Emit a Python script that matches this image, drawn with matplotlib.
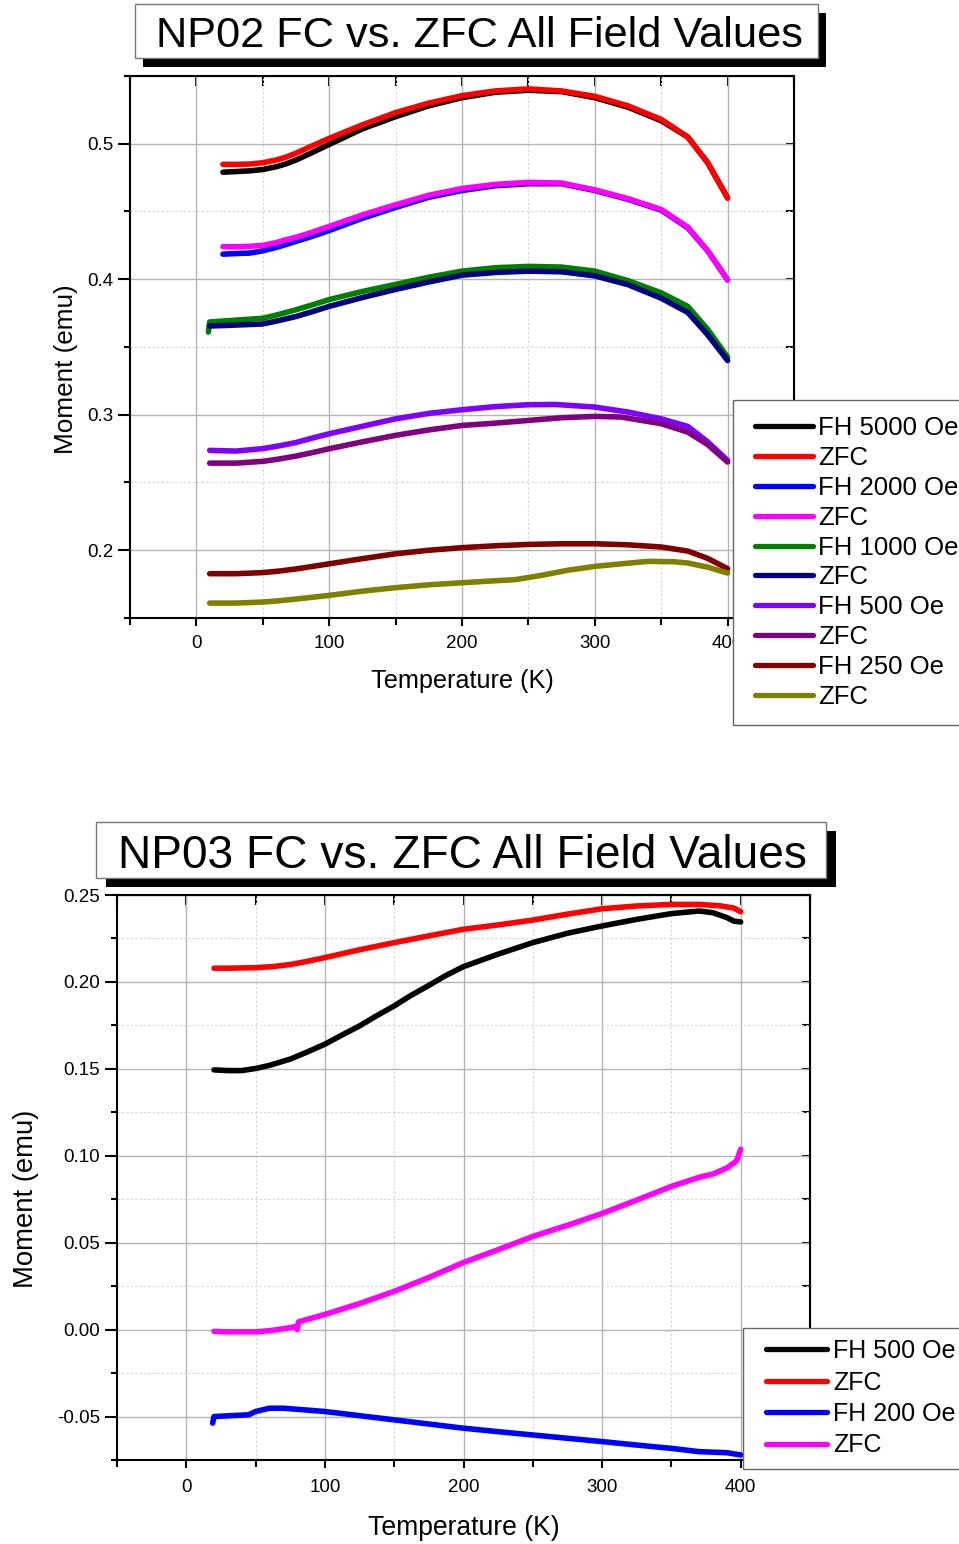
import matplotlib
matplotlib.use('Agg')
import matplotlib.pyplot as plt
from matplotlib.patches import Rectangle
from matplotlib.ticker import MultipleLocator, FormatStrFormatter

plt.rcParams['font.family'] = ['Liberation Sans', 'DejaVu Sans']
plt.rcParams['axes.unicode_minus'] = False

# ---------------- NP02 data (top panel) ----------------
np02_fh5000_T = [20, 30, 40, 50, 60, 67, 75, 85, 100, 125, 150, 175, 200, 225, 250, 275, 300, 325, 350, 370, 385, 400]
np02_fh5000_M = [0.479, 0.4795, 0.480, 0.481, 0.483, 0.485, 0.488, 0.4925, 0.4995, 0.511, 0.520, 0.528, 0.534, 0.538,
                 0.5395, 0.5385, 0.534, 0.527, 0.517, 0.505, 0.486, 0.460]
np02_zfc5000_T = [20, 30, 40, 50, 60, 67, 75, 85, 100, 125, 150, 175, 200, 225, 250, 275, 300, 325, 350, 370, 385, 400]
np02_zfc5000_M = [0.4848, 0.4848, 0.485, 0.486, 0.488, 0.490, 0.493, 0.4975, 0.504, 0.514, 0.523, 0.530, 0.5355,
                  0.539, 0.5405, 0.539, 0.535, 0.528, 0.518, 0.505, 0.486, 0.460]
np02_fh2000_T = [20, 30, 40, 50, 60, 67, 75, 85, 100, 125, 150, 175, 200, 225, 250, 275, 300, 325, 350, 370, 385, 400]
np02_fh2000_M = [0.4185, 0.419, 0.4193, 0.421, 0.4235, 0.4255, 0.428, 0.431, 0.436, 0.445, 0.453, 0.4605, 0.4655,
                 0.469, 0.4705, 0.4705, 0.4655, 0.459, 0.451, 0.438, 0.421, 0.3995]
np02_zfc2000_T = [20, 30, 40, 50, 60, 67, 75, 85, 100, 125, 150, 175, 200, 225, 250, 275, 300, 325, 350, 370, 385, 400]
np02_zfc2000_M = [0.424, 0.424, 0.4243, 0.425, 0.427, 0.429, 0.431, 0.434, 0.439, 0.4475, 0.455, 0.462, 0.467, 0.470,
                  0.4715, 0.471, 0.466, 0.4595, 0.4515, 0.4385, 0.421, 0.3995]
np02_fh1000_T = [9, 10, 25, 50, 62, 75, 87, 100, 125, 150, 175, 200, 225, 250, 275, 300, 325, 350, 370, 385, 400]
np02_fh1000_M = [0.361, 0.3685, 0.3695, 0.3712, 0.374, 0.3775, 0.381, 0.385, 0.391, 0.3962, 0.4015, 0.406, 0.4085,
                 0.4095, 0.409, 0.406, 0.399, 0.390, 0.380, 0.363, 0.3425]
np02_zfc1000_T = [10, 25, 50, 62, 75, 87, 100, 125, 150, 175, 200, 225, 250, 275, 300, 325, 350, 370, 385, 400]
np02_zfc1000_M = [0.3655, 0.366, 0.367, 0.3695, 0.3725, 0.376, 0.380, 0.3865, 0.3925, 0.398, 0.403, 0.405, 0.406,
                  0.4055, 0.4025, 0.396, 0.386, 0.3755, 0.359, 0.340]
np02_fh500_T = [10, 30, 50, 62, 75, 87, 100, 125, 150, 175, 200, 225, 250, 270, 300, 325, 350, 370, 385, 400]
np02_fh500_M = [0.2737, 0.2732, 0.275, 0.277, 0.2795, 0.2827, 0.286, 0.2915, 0.297, 0.301, 0.3037, 0.306, 0.3074,
                0.3076, 0.3057, 0.302, 0.297, 0.2914, 0.280, 0.2663]
np02_zfc500_T = [10, 30, 50, 62, 75, 87, 100, 125, 150, 175, 200, 225, 250, 275, 300, 320, 350, 370, 385, 400]
np02_zfc500_M = [0.2643, 0.2643, 0.2656, 0.2673, 0.2695, 0.272, 0.2749, 0.280, 0.2848, 0.2888, 0.2921, 0.2938,
                 0.2958, 0.2978, 0.2988, 0.2983, 0.2934, 0.2872, 0.278, 0.2651]
np02_fh250_T = [10, 30, 50, 62, 75, 87, 100, 125, 150, 175, 200, 225, 250, 275, 300, 325, 350, 370, 385, 400]
np02_fh250_M = [0.1827, 0.1827, 0.1835, 0.1846, 0.1862, 0.188, 0.190, 0.1938, 0.1974, 0.200, 0.2019, 0.2033,
                0.2043, 0.2048, 0.2048, 0.204, 0.2024, 0.1994, 0.194, 0.1864]
np02_zfc250_T = [10, 30, 50, 62, 75, 87, 100, 125, 150, 175, 200, 220, 240, 260, 280, 300, 320, 340, 360, 370, 385,
                 400]
np02_zfc250_M = [0.161, 0.161, 0.1618, 0.1627, 0.164, 0.1653, 0.1667, 0.1698, 0.1724, 0.1745, 0.176, 0.1772,
                 0.1783, 0.1815, 0.1853, 0.1881, 0.190, 0.1918, 0.1915, 0.1906, 0.1875, 0.1832]

np02_labels = ["FH 5000 Oe", "ZFC", "FH 2000 Oe", "ZFC", "FH 1000 Oe", "ZFC",
               "FH 500 Oe", "ZFC", "FH 250 Oe", "ZFC"]
np02_colors = ["#000000", "#FF0000", "#0000FF", "#FF00FF", "#008000", "#000080",
               "#8000FF", "#800080", "#800000", "#808000"]

# ---------------- NP03 data (bottom panel) ----------------
np03_fh500_T = [20, 30, 40, 50, 60, 75, 87, 100, 112, 125, 137, 150, 162, 175, 187, 200, 225, 250, 275, 300, 325,
                350, 370, 380, 390, 395, 400]
np03_fh500_M = [0.1494, 0.149, 0.149, 0.1502, 0.152, 0.1556, 0.1596, 0.1642, 0.1693, 0.1747, 0.1804, 0.1862,
                0.1922, 0.198, 0.2036, 0.2088, 0.216, 0.2226, 0.228, 0.2322, 0.236, 0.2393, 0.2408, 0.2398, 0.237,
                0.235, 0.2345]
np03_zfc500_T = [20, 30, 50, 62, 75, 87, 100, 125, 150, 175, 200, 225, 250, 275, 300, 325, 350, 370, 385, 395, 400]
np03_zfc500_M = [0.2079, 0.2079, 0.2082, 0.2088, 0.210, 0.2118, 0.214, 0.2185, 0.2226, 0.2265, 0.2303, 0.2328,
                 0.2356, 0.239, 0.2421, 0.2437, 0.2446, 0.2446, 0.2438, 0.2425, 0.2404]
np03_fh200_T = [19, 20, 30, 45, 50, 60, 70, 100, 125, 150, 175, 200, 225, 250, 275, 300, 325, 350, 370, 390, 400]
np03_fh200_M = [-0.0538, -0.050, -0.0496, -0.049, -0.0471, -0.0452, -0.0452, -0.0471, -0.0495, -0.0519, -0.0543,
                -0.0567, -0.0587, -0.0606, -0.0625, -0.0644, -0.0664, -0.0683, -0.0702, -0.0708, -0.0721]
np03_zfc200_T = [20, 30, 50, 60, 70, 79, 80, 81, 100, 125, 150, 175, 200, 225, 250, 275, 300, 325, 350, 370, 380,
                 390, 397, 400]
np03_zfc200_M = [-0.001, -0.0013, -0.0013, -0.0006, 0.0005, 0.0018, 0.0, 0.0045, 0.0087, 0.015, 0.022, 0.030, 0.0386,
                 0.046, 0.0536, 0.060, 0.0668, 0.0745, 0.0824, 0.0876, 0.0895, 0.093, 0.097, 0.1037]

np03_labels = ["FH 500 Oe", "ZFC", "FH 200 Oe", "ZFC"]
np03_colors = ["#000000", "#FF0000", "#0000FF", "#FF00FF"]

xlabel = "Temperature (K)"
ylabel = "Moment (emu)"
title_top = "NP02 FC vs. ZFC All Field Values"
title_bot = "NP03 FC vs. ZFC All Field Values"

W, H = 959, 1544
fig = plt.figure(figsize=(W / 100, H / 100), dpi=100)


def fx(px):
    return px / W


def fy(py):
    return 1 - py / H


def add_axes(l, t, r, b):
    return fig.add_axes([fx(l), fy(b), (r - l) / W, (b - t) / H])


def style(ax, ylim, ymaj, ymin, yfmt, ylen, ypad, xpad):
    ax.set_xlim(-50, 450)
    ax.set_ylim(*ylim)
    ax.xaxis.set_major_locator(MultipleLocator(100))
    ax.xaxis.set_minor_locator(MultipleLocator(50))
    ax.yaxis.set_major_locator(MultipleLocator(ymaj))
    ax.yaxis.set_minor_locator(MultipleLocator(ymin))
    ax.yaxis.set_major_formatter(FormatStrFormatter(yfmt))
    ax.tick_params(axis='x', which='major', direction='out', top=False, length=6, width=1.5,
                   labelsize=13.5, pad=xpad)
    ax.tick_params(axis='x', which='minor', direction='out', top=False, length=5, width=1.5)
    ax.tick_params(axis='y', which='major', direction='out', right=False, length=ylen, width=1.5,
                   labelsize=13.5, pad=ypad)
    ax.tick_params(axis='y', which='minor', direction='out', right=False, length=4, width=1.5)
    for s in ax.spines.values():
        s.set_linewidth(1.5)
    ax.set_axisbelow(True)
    ax.grid(which='major', color='#b4b4b4', lw=1.0)
    ax.grid(which='minor', color='#d4d4d4', lw=0.8, ls=(0, (2, 2)))
    sx = ax.secondary_xaxis('top')
    sx.xaxis.set_major_locator(MultipleLocator(50))
    sx.tick_params(direction='in', length=7, width=1.5, labeltop=False)
    sy = ax.secondary_yaxis('right')
    sy.yaxis.set_major_locator(MultipleLocator(ymin))
    sy.tick_params(direction='in', length=6, width=1.5, labelright=False)


def title_box(l, t, r, b, dx, dy, text, fs, cx, base):
    fig.add_artist(Rectangle((fx(l + dx), fy(b + dy)), (r - l) / W, (b - t) / H,
                             transform=fig.transFigure, facecolor='black', edgecolor='none'))
    fig.add_artist(Rectangle((fx(l), fy(b)), (r - l) / W, (b - t) / H,
                             transform=fig.transFigure, facecolor='white', edgecolor='#777777', lw=1.0))
    fig.text(fx(cx), fy(base), text, fontsize=fs, ha='center', va='baseline', color='black')


def legend(handles, labels, left, top, fs, spacing, bpad, hlen, hpad, shift):
    leg = fig.legend(handles, labels, loc='upper left', bbox_to_anchor=(fx(left), fy(top)),
                     bbox_transform=fig.transFigure, borderaxespad=0, frameon=True, fancybox=False,
                     edgecolor='#666666', framealpha=1, fontsize=fs, handlelength=hlen,
                     handletextpad=hpad, labelspacing=spacing, borderpad=bpad)
    leg.get_frame().set_linewidth(1.0)
    for ln in leg.get_lines():
        ln.set_linewidth(3.8)
        xd = list(ln.get_xdata())
        x0 = xd[0] + shift * (xd[-1] - xd[0])
        ln.set_xdata([x0, xd[-1]])
        ln.set_ydata([ln.get_ydata()[0]] * 2)
    return leg


# ---------------- top panel ----------------
ax1 = add_axes(130, 76, 794, 618)
style(ax1, (0.15, 0.55), 0.1, 0.05, '%.1f', 8.5, 3.5, 6)
top_series = [
    (np02_fh5000_T, np02_fh5000_M), (np02_zfc5000_T, np02_zfc5000_M),
    (np02_fh2000_T, np02_fh2000_M), (np02_zfc2000_T, np02_zfc2000_M),
    (np02_fh1000_T, np02_fh1000_M), (np02_zfc1000_T, np02_zfc1000_M),
    (np02_fh500_T, np02_fh500_M), (np02_zfc500_T, np02_zfc500_M),
    (np02_fh250_T, np02_fh250_M), (np02_zfc250_T, np02_zfc250_M),
]
h1 = []
for (t, m), c, lab in zip(top_series, np02_colors, np02_labels):
    ln, = ax1.plot(t, m, color=c, lw=4, solid_capstyle='round', solid_joinstyle='round', label=lab)
    h1.append(ln)
ax1.set_xlabel(xlabel, fontsize=18.2)
ax1.xaxis.set_label_coords(0.5, (618 - 688) / 542)
ax1.xaxis.label.set_va('baseline')
ax1.set_ylabel(ylabel, fontsize=18.8)
ax1.yaxis.set_label_coords((73 - 130) / 664, 1 - (369 - 76) / 542)
ax1.yaxis.label.set_va('baseline')

# ---------------- bottom panel ----------------
ax2 = add_axes(117, 895, 810, 1460)
style(ax2, (-0.075, 0.25), 0.05, 0.025, '%.2f', 9, 3, 8)
bot_series = [
    (np03_fh500_T, np03_fh500_M), (np03_zfc500_T, np03_zfc500_M),
    (np03_fh200_T, np03_fh200_M), (np03_zfc200_T, np03_zfc200_M),
]
h2 = []
for (t, m), c, lab in zip(bot_series, np03_colors, np03_labels):
    ln, = ax2.plot(t, m, color=c, lw=4, solid_capstyle='round', solid_joinstyle='round', label=lab)
    h2.append(ln)
ax2.set_xlabel(xlabel, fontsize=19.1)
ax2.xaxis.set_label_coords((464 - 117) / 693, (1460 - 1535) / 565)
ax2.xaxis.label.set_va('baseline')
ax2.set_ylabel(ylabel, fontsize=19.8)
ax2.yaxis.set_label_coords((33 - 117) / 693, 1 - (1198.5 - 895) / 565)
ax2.yaxis.label.set_va('baseline')

# ---------------- titles and legends ----------------
title_box(135, 4, 818, 58, 8, 9, title_top, 31.2, 479.5, 47)
title_box(96, 822, 826, 878, 10, 9, title_bot, 33.2, 462.5, 868)

legend(h1, np02_labels, 733, 400, 18.5, 0.23, 0.62, 2.49, 0.19, 0.094)
legend(h2, np03_labels, 743, 1328, 18, 0.30, 0.44, 2.92, 0.24, 0.164)

fig.savefig('out.png', dpi=100)
